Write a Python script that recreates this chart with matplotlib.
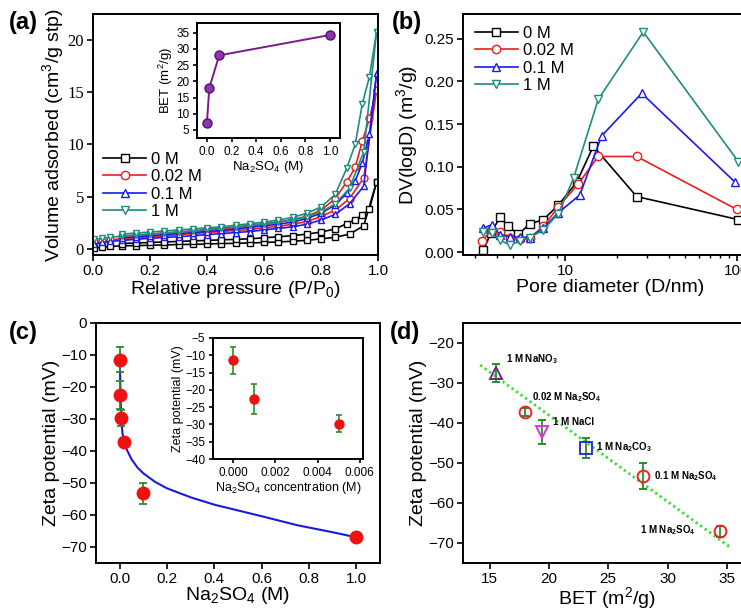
import numpy as np
import matplotlib
matplotlib.use('Agg')
import matplotlib.pyplot as plt
from matplotlib.ticker import FixedLocator, NullFormatter, FuncFormatter

plt.rcParams['font.family'] = ['Liberation Sans', 'DejaVu Sans']
plt.rcParams['mathtext.fontset'] = 'custom'
plt.rcParams['mathtext.rm'] = 'Liberation Sans'
plt.rcParams['mathtext.it'] = 'Liberation Sans:italic'
plt.rcParams['mathtext.default'] = 'regular'
plt.rcParams['axes.linewidth'] = 1.4

# ---- (a) N2 isotherms: adsorption / desorption branches ----
p_ads = [0.005, 0.03, 0.06, 0.10, 0.15, 0.20, 0.25, 0.30, 0.35, 0.40, 0.45,
         0.50, 0.55, 0.60, 0.65, 0.70, 0.75, 0.80, 0.85, 0.90, 0.95, 0.995]
p_des = [0.995, 0.97, 0.945, 0.92, 0.89, 0.85, 0.80, 0.75, 0.70, 0.65, 0.60,
         0.55, 0.50, 0.45, 0.40, 0.35, 0.30, 0.25, 0.20, 0.15, 0.10]
v_ads_0 = [0.05, 0.15, 0.22, 0.28, 0.30, 0.33, 0.37, 0.40, 0.42, 0.45, 0.50,
           0.52, 0.55, 0.60, 0.65, 0.72, 0.80, 0.95, 1.10, 1.40, 2.20, 6.4]
v_des_0 = [6.4, 3.8, 3.2, 2.8, 2.4, 1.9, 1.6, 1.4, 1.25, 1.15, 1.05,
           0.95, 0.90, 0.85, 0.80, 0.75, 0.70, 0.65, 0.60, 0.55, 0.50]
v_ads_002 = [0.60, 0.75, 0.85, 0.95, 1.05, 1.15, 1.25, 1.35, 1.45, 1.55, 1.65,
             1.75, 1.85, 2.00, 2.15, 2.35, 2.60, 3.10, 3.70, 4.80, 6.80, 15.2]
v_des_002 = [15.2, 12.5, 10.3, 7.8, 6.4, 4.8, 3.7, 3.1, 2.8, 2.55, 2.35,
             2.20, 2.05, 1.90, 1.80, 1.70, 1.60, 1.50, 1.40, 1.30, 1.20]
v_ads_01 = [0.45, 0.60, 0.70, 0.80, 0.90, 1.00, 1.08, 1.15, 1.25, 1.35, 1.45,
            1.55, 1.65, 1.80, 1.95, 2.10, 2.35, 2.75, 3.30, 4.30, 6.00, 16.8]
v_des_01 = [16.8, 11.0, 8.2, 6.5, 5.3, 4.2, 3.4, 2.9, 2.55, 2.35, 2.20,
            2.05, 1.90, 1.75, 1.65, 1.55, 1.45, 1.35, 1.25, 1.15, 1.05]
v_ads_1 = [0.90, 1.00, 1.10, 1.20, 1.30, 1.40, 1.50, 1.60, 1.70, 1.85, 2.00,
           2.10, 2.25, 2.40, 2.55, 2.75, 3.05, 3.50, 4.30, 5.80, 9.30, 20.8]
v_des_1 = [20.8, 16.5, 13.9, 10.0, 7.7, 5.2, 4.0, 3.4, 3.0, 2.75, 2.55,
           2.40, 2.25, 2.10, 2.00, 1.90, 1.80, 1.70, 1.60, 1.50, 1.40]

# inset (a): BET vs Na2SO4
bet_conc = [0.0, 0.02, 0.1, 1.0]
bet_area = [7.0, 18.0, 28.0, 34.3]

# ---- (b) pore size distribution ----
d_0 = [3.35, 3.7, 4.19, 4.68, 5.35, 6.26, 7.48, 9.14, 11.7, 14.6, 26.1, 101.8]
dv_0 = [0.002, 0.022, 0.041, 0.030, 0.021, 0.033, 0.038, 0.055, 0.082, 0.124, 0.065, 0.038]
d_002 = [3.28, 3.75, 4.19, 4.79, 5.47, 6.26, 7.48, 9.14, 11.95, 15.6, 26.1, 99.5]
dv_002 = [0.013, 0.026, 0.023, 0.017, 0.015, 0.017, 0.030, 0.053, 0.080, 0.112, 0.112, 0.050]
d_01 = [3.35, 3.75, 4.19, 4.79, 5.47, 6.26, 7.48, 9.14, 12.2, 16.3, 27.9, 97.3]
dv_01 = [0.028, 0.032, 0.020, 0.018, 0.0175, 0.017, 0.028, 0.046, 0.067, 0.136, 0.186, 0.082]
d_1 = [3.35, 3.75, 4.19, 4.79, 5.47, 6.26, 7.48, 9.14, 11.2, 15.6, 28.5, 101.8]
dv_1 = [0.024, 0.022, 0.014, 0.008, 0.013, 0.017, 0.026, 0.045, 0.0865, 0.179, 0.258, 0.106]

# ---- (c) zeta potential vs Na2SO4 ----
zeta_conc = [0.0, 0.001, 0.005, 0.02, 0.1, 1.0]
zeta_val = [-11.5, -22.6, -29.8, -37.3, -53.3, -67.0]
zeta_err = [3.8, 4.3, 2.4, 1.3, 3.3, 1.4]
fit_x = [0.0, 0.001, 0.003, 0.005, 0.008, 0.012, 0.02, 0.03, 0.05, 0.075, 0.1,
         0.15, 0.2, 0.3, 0.4, 0.5, 0.6, 0.75, 0.9, 1.0]
fit_y = [-10.0, -13.5, -20.0, -26.0, -31.5, -34.5, -37.3, -39.6, -42.6, -45.2, -47.0,
         -49.7, -51.7, -54.5, -56.8, -58.6, -60.4, -63.2, -65.4, -67.0]

# ---- (d) zeta potential vs BET ----
d_bet = [15.5, 18.0, 19.4, 23.1, 27.9, 34.4]
d_zeta = [-27.5, -37.3, -42.3, -46.4, -53.3, -67.1]
d_err = [2.2, 1.0, 3.0, 2.5, 3.2, 1.4]
d_names = ['1 M NaNO$_3$', '0.02 M Na$_2$SO$_4$', '1 M NaCl', '1 M Na$_2$CO$_3$',
           '0.1 M Na$_2$SO$_4$', '1 M Na$_2$SO$_4$']
d_label_x = [16.4, 18.6, 20.3, 24.0, 28.9, 27.7]
d_label_y = [-24.0, -33.7, -39.9, -46.1, -53.2, -66.8]
line_bet = [14.2, 35.3]
line_zeta = [-25.6, -71.1]

W, H = 741, 610
fig = plt.figure(figsize=(W / 100, H / 100), dpi=100)


def px(l, t, r, b):
    return [l / W, 1 - b / H, (r - l) / W, (b - t) / H]


def style(ax, size=11, length=4):
    ax.tick_params(direction='out', length=length, width=1.2, labelsize=size, pad=2.5)


LBL = 14
green = '#2e8b2e'

# (a)
ax = fig.add_axes(px(93, 14, 378, 255))
cols = ['black', '#ee1c1c', '#1a1aee', '#1e8c7e']
marks = ['s', 'o', '^', 'v']
names = ['0 M', '0.02 M', '0.1 M', '1 M']
ads = [v_ads_0, v_ads_002, v_ads_01, v_ads_1]
des = [v_des_0, v_des_002, v_des_01, v_des_1]
for c, m, n, va, vd in zip(cols, marks, names, ads, des):
    ax.plot(p_ads, va, color=c, marker=m, mfc='white', mec=c, ms=5, mew=1.0, lw=1.2, label=n)
    ax.plot(p_des, vd, color=c, marker=m, mfc='white', mec=c, ms=5, mew=1.0, lw=1.2)
ax.set_xlim(0, 1.0)
ax.set_ylim(-0.6, 22.5)
ax.set_xticks([0.0, 0.2, 0.4, 0.6, 0.8, 1.0])
ax.set_xticklabels(['0.0', '0.2', '0.4', '0.6', '0.8', '1.0'])
ax.set_yticks([0, 5, 10, 15, 20])
ax.set_yticklabels(['0', '5', '10', '15', '20'], fontfamily='Liberation Serif')
style(ax)
ax.tick_params(axis='y', labelsize=12)
ax.set_xlabel('Relative pressure (P/P$_0$)', fontsize=LBL, labelpad=1)
ax.set_ylabel('Volume adsorbed (cm$^3$/g stp)', fontsize=LBL, labelpad=1)
ax.legend(loc='upper left', bbox_to_anchor=(0.0, 0.47), frameon=False, fontsize=12,
          handlelength=2.6, labelspacing=0.15, handletextpad=0.3, borderaxespad=0.2,
          markerscale=1.2)

ai = fig.add_axes(px(197, 23, 340, 138))
ai.plot(bet_conc, bet_area, color='#7b1a8a', lw=1.4, marker='o', ms=6.5,
        mfc='#8e36b0', mec='#5a0f6a')
ai.set_xlim(-0.08, 1.08)
ai.set_ylim(2.5, 38)
ai.set_xticks([0.0, 0.2, 0.4, 0.6, 0.8, 1.0])
ai.set_yticks([5, 10, 15, 20, 25, 30, 35])
style(ai, size=8.5, length=3)
ai.set_xlabel('Na$_2$SO$_4$ (M)', fontsize=9.5, labelpad=1)
ai.set_ylabel('BET (m$^2$/g)', fontsize=9.5, labelpad=1)

# (b)
bx = fig.add_axes(px(463, 14, 756.6, 255))
ds = [d_0, d_002, d_01, d_1]
dvs = [dv_0, dv_002, dv_01, dv_1]
for c, m, n, dd, vv in zip(cols, marks, names, ds, dvs):
    bx.plot(dd, vv, color=c, marker=m, mfc='white', mec=c, ms=6, mew=1.0, lw=1.2, label=n)
bx.set_xscale('log')
bx.set_xlim(2.55, 130)
bx.set_ylim(-0.0035, 0.279)
bx.set_yticks([0.0, 0.05, 0.10, 0.15, 0.20, 0.25])
bx.yaxis.set_major_formatter(FuncFormatter(lambda v, p: '%.2f' % v))
bx.xaxis.set_major_locator(FixedLocator([10, 100]))
bx.xaxis.set_major_formatter(FuncFormatter(lambda v, p: '%d' % v))
bx.xaxis.set_minor_formatter(NullFormatter())
style(bx)
bx.tick_params(which='minor', direction='out', length=2.5, width=1.0)
bx.set_xlabel('Pore diameter (D/nm)', fontsize=LBL, labelpad=1)
bx.set_ylabel('DV(logD) (m$^3$/g)', fontsize=LBL, labelpad=3)
bx.legend(loc='upper left', frameon=False, fontsize=12, handlelength=2.6,
          labelspacing=0.15, handletextpad=0.3, borderaxespad=0.3)

# (c)
cx = fig.add_axes(px(96, 322.7, 380, 563))
cx.plot(fit_x, fit_y, color='#1a1add', lw=1.5, zorder=2)
cx.errorbar(zeta_conc, zeta_val, yerr=zeta_err, fmt='o', color='#ee1111', ms=9,
            ecolor=green, elinewidth=1.3, capsize=3, capthick=1.3, zorder=3)
cx.set_xlim(-0.1, 1.1)
cx.set_ylim(-75, 0)
cx.set_xticks([0.0, 0.2, 0.4, 0.6, 0.8, 1.0])
cx.set_yticks([0, -10, -20, -30, -40, -50, -60, -70])
style(cx)
cx.set_xlabel('Na$_2$SO$_4$ (M)', fontsize=LBL, labelpad=-1)
cx.set_ylabel('Zeta potential (mV)', fontsize=LBL, labelpad=1)

ci = fig.add_axes(px(213, 338, 363, 459))
ci.errorbar(zeta_conc[:3], zeta_val[:3], yerr=zeta_err[:3], fmt='o', color='#ee1111',
            ms=6.5, ecolor=green, elinewidth=1.2, capsize=2.5, capthick=1.2)
ci.set_xlim(-0.00095, 0.00615)
ci.set_ylim(-40, -5)
ci.set_xticks([0.0, 0.002, 0.004, 0.006])
ci.set_xticklabels(['0.000', '0.002', '0.004', '0.006'])
ci.set_yticks([-5, -10, -15, -20, -25, -30, -35, -40])
style(ci, size=8.5, length=3)
ci.set_xlabel('Na$_2$SO$_4$ concentration (M)', fontsize=9, labelpad=1)
ci.set_ylabel('Zeta potential (mV)', fontsize=9, labelpad=1)

# (d)
dx = fig.add_axes(px(463, 322.7, 750.5, 563))
dx.plot(line_bet, line_zeta, color='#33dd33', lw=2.0, ls=(0, (0.8, 1.2)), zorder=1)
d_marks = ['^', 'o', 'v', 's', 'o', 'o']
d_cols = ['#6a2a80', '#ee2222', '#dd33dd', '#2233dd', '#ee2222', '#ee2222']
for x, y, e, m, c in zip(d_bet, d_zeta, d_err, d_marks, d_cols):
    dx.errorbar([x], [y], yerr=[e], fmt=m, mfc='none', mec=c, mew=1.4, ms=8.5,
                ecolor=green, elinewidth=1.3, capsize=3, capthick=1.3, zorder=3)
for x, y, s in zip(d_label_x, d_label_y, d_names):
    dx.text(x, y, s, fontsize=7, fontweight='bold', ha='left', va='center')
dx.set_xlim(12.75, 37)
dx.set_ylim(-75, -15)
dx.set_xticks([15, 20, 25, 30, 35])
dx.set_yticks([-20, -30, -40, -50, -60, -70])
style(dx)
dx.set_xlabel('BET (m$^2$/g)', fontsize=LBL, labelpad=-1)
dx.set_ylabel('Zeta potential (mV)', fontsize=LBL, labelpad=1)

# panel letters
for s, x, y in [('(a)', 9, 23), ('(b)', 392, 23), ('(c)', 9, 333), ('(d)', 390, 333)]:
    fig.text(x / W, 1 - y / H, s, fontsize=17, fontweight='bold', ha='left', va='center')

fig.savefig('out.png', dpi=100)
